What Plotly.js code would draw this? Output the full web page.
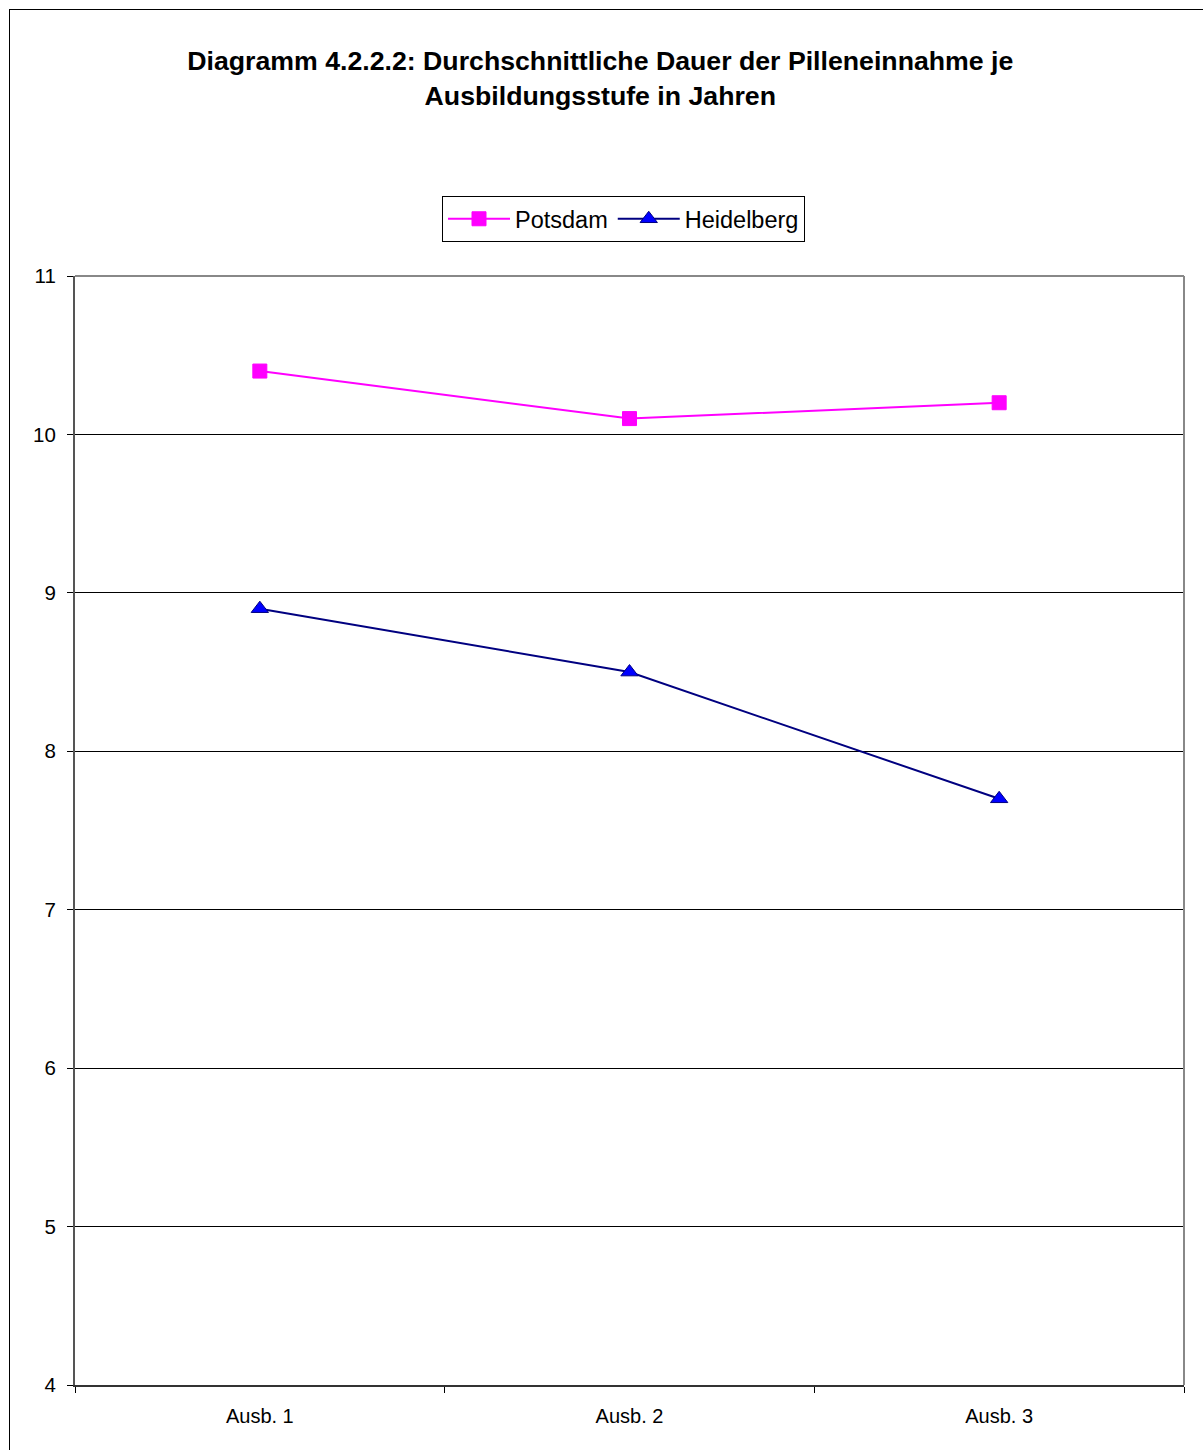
<!DOCTYPE html>
<html>
<head>
<meta charset="utf-8">
<script src="https://cdn.plot.ly/plotly-3.0.1.min.js"></script>
<style>
html,body{margin:0;padding:0;background:#fff;overflow:hidden;}
#wrap{position:relative;width:1203px;height:1450px;}
#frame{position:absolute;left:9px;top:9px;width:1210px;height:1460px;border:1px solid #000;box-sizing:border-box;pointer-events:none;z-index:5;}
#chart{position:absolute;left:0;top:0;width:1203px;height:1450px;}
</style>
</head>
<body>
<div id="wrap"><div id="chart"></div><div id="frame"></div></div>
<script>
const categories = ["Ausb. 1", "Ausb. 2", "Ausb. 3"];
const potsdam = [10.4, 10.1, 10.2];
const heidelberg = [8.9, 8.5, 7.7];
const yTicks = [4, 5, 6, 7, 8, 9, 10, 11];

const font = "Liberation Sans, Arial, sans-serif";

const traces = [
  {
    x: categories, y: potsdam, name: "Potsdam", type: "scatter", mode: "lines+markers",
    line: {color: "#FF00FF", width: 2},
    marker: {symbol: "square", size: 14, color: "#FF00FF", line: {color: "#FF00FF", width: 1}}
  },
  {
    x: categories, y: heidelberg, name: "Heidelberg", type: "scatter", mode: "lines+markers",
    line: {color: "#000080", width: 2},
    marker: {symbol: "triangle-up", size: 15, color: "#0000FF", line: {color: "#000080", width: 1}}
  }
];

const layout = {
  width: 1203, height: 1450,
  margin: {l: 75, r: 19, t: 276, b: 65, pad: 0},
  paper_bgcolor: "#fff", plot_bgcolor: "#fff",
  font: {family: font, color: "#000", size: 20},
  title: {
    text: "<b>Diagramm 4.2.2.2: Durchschnittliche Dauer der Pilleneinnahme je<br>Ausbildungsstufe in Jahren</b>",
    font: {family: font, size: 26.7, color: "#000"},
    xref: "container", x: 0.499, xanchor: "center",
    yref: "container", y: 1 - 70/1450, yanchor: "top"
  },
  showlegend: true,
  legend: {
    orientation: "h", xref: "container", yref: "container",
    x: 442/1203, xanchor: "left", y: 1 - 196/1450, yanchor: "top",
    bordercolor: "#000", borderwidth: 1, bgcolor: "#fff",
    font: {family: font, size: 23.5, color: "#000"},
    itemwidth: 62,
    tracegroupgap: 0
  },
  xaxis: {
    type: "category", range: [-0.5, 2.5],
    tickson: "boundaries", ticks: "outside", ticklen: 6, tickcolor: "#000", tickwidth: 1,
    ticklabelstandoff: 12,
    showline: true, linecolor: "#333", linewidth: 2,
    showgrid: false, zeroline: false,
    tickfont: {family: font, size: 20, color: "#000"},
    mirror: false, fixedrange: true
  },
  yaxis: {
    range: [4, 11], tickvals: yTicks, ticktext: yTicks.map(String),
    ticks: "outside", ticklen: 6, tickcolor: "#000", tickwidth: 1,
    ticklabelstandoff: 7,
    showline: true, linecolor: "#555", linewidth: 2,
    showgrid: true, gridcolor: "#000", gridwidth: 1,
    zeroline: false,
    tickfont: {family: font, size: 20.5, color: "#000"},
    fixedrange: true
  },
  shapes: [
    {type: "line", xref: "paper", yref: "paper", x0: 0, x1: 1, y0: 1, y1: 1, line: {color: "#888", width: 2}},
    {type: "line", xref: "paper", yref: "paper", x0: 1, x1: 1, y0: 0, y1: 1, line: {color: "#888", width: 2}}
  ]
};

Plotly.newPlot("chart", traces, layout, {displayModeBar: false, staticPlot: true});
</script>
</body>
</html>
